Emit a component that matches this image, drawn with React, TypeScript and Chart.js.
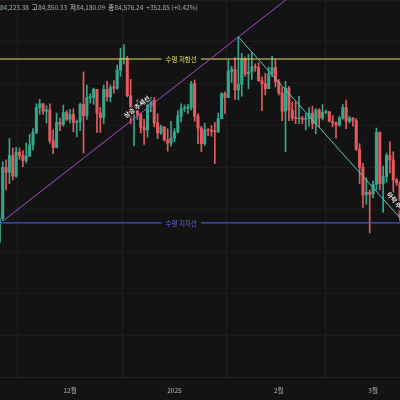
import { useEffect, useRef } from 'react';
import { Chart, registerables } from 'chart.js';
Chart.register(...registerables);

// Daily candles, index 0 = 2024-11-10 … 119 = 2025-03-09 (values in thousand USD)
const openK = [
  76.7, 80.5, 88.7, 87.9, 90.6, 87.3, 91.1, 90.6, 89.8, 90.5, 92.3, 94.3, 98.3, 98.9, 97.7, 97.9, 93.0, 91.9, 95.9, 95.6, 97.5,
  96.4, 97.2, 95.9, 96.0, 98.8, 97.0, 99.9, 99.9, 101.2, 97.4, 96.7, 101.2, 100.0, 101.5, 101.4, 104.3, 106.1, 106.1, 100.2, 97.5, 97.8, 97.2, 95.1, 94.7, 98.7, 99.4, 95.8, 94.2, 95.2, 93.1, 92.6,
  93.4, 94.4, 96.9, 98.1, 98.2, 98.3, 102.1, 96.9, 95.0, 92.5, 94.7, 94.6, 94.5, 94.4, 96.5, 100.5, 99.9, 104.1, 104.4, 101.1, 102.0, 106.1, 103.7, 104.0, 104.8, 104.7, 102.6, 102.1, 101.3, 103.7, 104.7,
  102.4, 100.6, 97.7, 101.4, 97.9, 96.6, 96.5, 96.5, 96.4, 96.5, 97.4, 95.7, 97.9, 96.6, 97.5, 97.6, 96.1, 95.8, 95.5, 96.6, 98.3, 96.1, 96.6, 96.2, 91.6, 88.7, 84.3, 84.7,
  84.4, 86.0, 94.3, 86.1, 87.2, 90.6, 89.9, 86.7, 86.2,
];
const highK = [
  81.5, 89.6, 89.9, 93.3, 91.8, 91.9, 91.8, 91.4, 92.6, 94.0, 94.9, 98.9, 99.6, 98.9, 98.6, 98.9, 94.7, 97.4, 96.6, 98.7, 97.8,
  98.0, 98.1, 96.3, 99.0, 104.0, 101.9, 100.5, 101.4, 101.2, 98.3, 101.9, 102.5, 101.9, 102.6, 105.1, 107.8, 108.4, 106.5, 102.8, 98.1, 99.5, 97.4, 96.4, 99.4, 99.9, 99.9, 97.3, 95.5, 95.2, 94.9, 96.1,
  94.9, 97.8, 98.9, 98.7, 98.8, 102.5, 102.7, 97.3, 95.3, 95.8, 94.9, 95.4, 95.9, 97.4, 100.7, 100.8, 105.9, 104.9, 106.3, 109.6, 107.0, 106.4, 106.8, 107.1, 105.3, 105.5, 103.2, 103.8, 104.8, 106.5, 106.0,
  102.8, 101.5, 102.5, 101.7, 99.2, 99.2, 100.1, 96.9, 97.3, 98.3, 98.5, 98.1, 98.1, 98.8, 97.9, 97.7, 97.0, 96.0, 96.9, 98.8, 99.5, 96.9, 96.7, 96.5, 92.5, 89.3, 87.0, 85.1,
  86.5, 95.0, 94.4, 88.9, 91.0, 92.8, 91.2, 86.9, 86.5,
];
const lowK = [
  76.5, 80.2, 85.1, 86.1, 86.7, 87.1, 90.0, 88.8, 89.4, 90.4, 91.5, 94.1, 97.2, 97.2, 95.8, 92.6, 90.9, 91.8, 94.6, 95.3, 96.2,
  95.8, 94.4, 93.6, 94.6, 91.0, 96.4, 99.0, 98.8, 94.3, 94.3, 95.7, 99.3, 99.2, 100.6, 101.2, 103.3, 105.3, 100.0, 95.7, 92.2, 96.4, 94.2, 92.4, 93.5, 97.6, 95.2, 93.3, 94.0, 92.9, 91.3, 92.1,
  92.8, 94.2, 96.0, 97.6, 97.3, 97.9, 96.1, 92.5, 91.2, 92.2, 93.8, 93.7, 89.3, 94.3, 96.5, 97.3, 99.9, 102.3, 99.6, 99.5, 100.1, 103.3, 101.3, 102.8, 104.1, 102.5, 97.8, 100.3, 101.3, 103.3, 101.6,
  100.3, 96.2, 91.2, 96.2, 96.2, 95.7, 95.7, 95.7, 94.7, 95.3, 94.9, 94.1, 95.2, 96.3, 97.3, 96.0, 95.2, 93.4, 95.3, 96.4, 94.9, 95.8, 95.3, 91.4, 86.1, 82.3, 82.8, 78.2,
  83.8, 85.1, 85.1, 81.5, 86.3, 87.8, 84.7, 85.8, 80.1,
];
const closeK = [
  80.5, 88.7, 87.9, 90.6, 87.3, 91.1, 90.6, 89.8, 90.5, 92.3, 94.3, 98.3, 98.9, 97.7, 97.9, 93.0, 91.9, 95.9, 95.6, 97.5, 96.4,
  97.2, 95.9, 96.0, 98.8, 97.0, 99.9, 99.9, 101.2, 97.4, 96.7, 101.2, 100.0, 101.5, 101.4, 104.3, 106.1, 106.1, 100.2, 97.5, 97.8, 97.2, 95.1, 94.7, 98.7, 99.4, 95.8, 94.2, 95.2, 93.1, 92.6, 93.4,
  94.4, 96.9, 98.1, 98.2, 98.3, 102.1, 96.9, 95.0, 92.5, 94.7, 94.6, 94.5, 94.4, 96.5, 100.5, 99.9, 104.1, 104.4, 101.1, 102.0, 106.1, 103.7, 104.0, 104.8, 104.7, 102.6, 102.1, 101.3, 103.7, 104.7, 102.4,
  100.6, 97.7, 101.4, 97.9, 96.6, 96.5, 96.5, 96.4, 96.5, 97.4, 95.7, 97.9, 96.6, 97.5, 97.6, 96.1, 95.8, 95.5, 96.6, 98.3, 96.1, 96.6, 96.2, 91.6, 88.7, 84.3, 84.7, 84.4,
  86.0, 94.3, 86.1, 87.2, 90.6, 89.9, 86.7, 86.2, 80.7,
];

const monthTickIdx = [21, 52, 83, 111];
const monthTickLabels = ['12월', '2025', '2월', '3월'];

const resistanceLevel = 106070;
const supportLevel = 79800;
const upTrend = [{ x: 1.1, y: 80100 }, { x: 71, y: 109600 }, { x: 95, y: 119730 }];
const downTrend = [{ x: 71, y: 109600 }, { x: 122, y: 78800 }];

const headerLabels = ['시', '고', '저', '종', ''];
const headerValues = ['84,223.38', '84,850.33', '84,180.09', '84,576.24', '+352.85 (+0.42%)'];

const BG = '#131313';
const UP = '#36a68c';
const DOWN = '#e25b5e';
const YELLOW = '#e9dd5a';
const BLUE = '#4455cc';
const PURPLE = '#a94ccf';
const TEAL = '#5cc4c0';
const FONT = '"Noto Sans CJK KR", "Noto Sans", sans-serif';

export default function App() {
  const ref = useRef<HTMLCanvasElement>(null);
  useEffect(() => {
    document.body.style.margin = '0';
    document.body.style.background = BG;
    const idx = openK.map((_, i) => i);
    const colors = idx.map((i) => (closeK[i] >= openK[i] ? UP : DOWN));
    const bodies = idx.map((i) => ({ x: i, y: [openK[i] * 1000, closeK[i] * 1000] }));
    const wicks = idx.map((i) => ({ x: i, y: [lowK[i] * 1000, highK[i] * 1000] }));

    const labelPlugin = {
      id: 'labels',
      afterDatasetsDraw(chart: any) {
        const { ctx, scales } = chart;
        const xs = scales.x, ys = scales.y;
        const hLabel = (text: string, level: number, color: string) => {
          const cx = xs.getPixelForValue(54);
          const cy = ys.getPixelForValue(level);
          ctx.save();
          ctx.font = `6.5px ${FONT}`;
          const w = ctx.measureText(text).width;
          ctx.fillStyle = BG;
          ctx.fillRect(cx - w / 2 - 4, cy - 4, w + 8, 8);
          ctx.fillStyle = color;
          ctx.textAlign = 'center';
          ctx.textBaseline = 'middle';
          ctx.fillText(text, cx, cy + 0.5);
          ctx.restore();
        };
        hLabel('수평 저항선', resistanceLevel, YELLOW);
        hLabel('수평 지지선', supportLevel, '#5a68d8');
        const rLabel = (text: string, pts: any[], atX: number) => {
          const x0 = xs.getPixelForValue(pts[0].x), y0 = ys.getPixelForValue(pts[0].y);
          const x1 = xs.getPixelForValue(pts[1].x), y1 = ys.getPixelForValue(pts[1].y);
          const ang = Math.atan2(y1 - y0, x1 - x0);
          const px = xs.getPixelForValue(atX);
          const py = y0 + ((px - x0) * (y1 - y0)) / (x1 - x0);
          const off = 7.5;
          const cx = px + Math.sin(ang) * off;
          const cy = py - Math.cos(ang) * off;
          ctx.save();
          ctx.translate(cx, cy);
          ctx.rotate(ang);
          ctx.font = `bold 6.5px ${FONT}`;
          ctx.textAlign = 'center';
          ctx.textBaseline = 'middle';
          ctx.lineWidth = 2.5;
          ctx.strokeStyle = BG;
          ctx.lineJoin = 'round';
          ctx.strokeText(text, 0, 0);
          ctx.fillStyle = '#e8e8e8';
          ctx.fillText(text, 0, 0);
          ctx.restore();
        };
        rLabel('상승 추세선', upTrend, 42.2);
        rLabel('하락 추세선', downTrend, 116.8);
      },
      afterDraw(chart: any) {
        const { ctx } = chart;
        ctx.save();
        ctx.textBaseline = 'alphabetic';
        let x = 0;
        headerValues.forEach((v, i) => {
          const lab = headerLabels[i];
          ctx.font = `6.5px ${FONT}`;
          if (lab) {
            const lw = ctx.measureText(lab).width;
            ctx.fillStyle = '#d6d6d6';
            ctx.fillText(lab, i === 0 ? -lw + 0.5 : x, 10, 6);
            if (i > 0) x += Math.min(lw, 6) + 0.3;
          }
          ctx.fillStyle = '#9db3ab';
          const target = i === 4 ? 52 : 29;
          ctx.fillText(v, x, 10, target);
          x += Math.min(ctx.measureText(v).width, target) + 3;
        });
        ctx.restore();
      },
    };

    const chart = new Chart(ref.current as HTMLCanvasElement, {
      type: 'bar',
      data: {
        datasets: [
          { type: 'line', data: upTrend, borderColor: PURPLE, borderWidth: 1, pointRadius: 0, order: 1 } as any,
          { type: 'line', data: downTrend, borderColor: TEAL, borderWidth: 1, pointRadius: 0, order: 1 } as any,
          { type: 'line', data: [{ x: -2, y: resistanceLevel }, { x: 122, y: resistanceLevel }], borderColor: YELLOW, borderWidth: 1.2, pointRadius: 0, order: 2 } as any,
          { type: 'line', data: [{ x: -2, y: supportLevel }, { x: 122, y: supportLevel }], borderColor: BLUE, borderWidth: 1.2, pointRadius: 0, order: 2 } as any,
          { type: 'bar', data: bodies as any, backgroundColor: colors, barThickness: 2.4, grouped: false, minBarLength: 1, order: 9 } as any,
          { type: 'bar', data: wicks as any, backgroundColor: colors, barThickness: 1, grouped: false, order: 10 } as any,
        ],
      },
      options: {
        animation: false,
        responsive: true,
        maintainAspectRatio: false,
        layout: { padding: 0 },
        plugins: { legend: { display: false }, tooltip: { enabled: false } },
        events: [],
        scales: {
          x: {
            type: 'linear',
            min: 0.2,
            max: 119,
            offset: false,
            afterBuildTicks: (axis: any) => { axis.ticks = monthTickIdx.map((v) => ({ value: v })); },
            afterFit: (s: any) => { s.height = 23; },
            ticks: {
              autoSkip: false,
              maxRotation: 0,
              padding: 10,
              color: '#b8b8b8',
              font: { size: 6.5, family: FONT },
              callback: (v: any) => monthTickLabels[monthTickIdx.indexOf(Number(v))] ?? '',
            },
            grid: { color: '#202020', drawTicks: false },
            border: { color: '#262626' },
          },
          y: {
            position: 'right',
            min: 55100,
            max: 115530,
            afterFit: (s: any) => { s.width = 0; },
            ticks: { display: false, stepSize: 7000 },
            grid: { color: '#1c1c1c', drawTicks: false },
            border: { display: false },
          },
        },
      } as any,
      plugins: [labelPlugin],
    });
    return () => chart.destroy();
  }, []);
  return (
    <div style={{ position: 'fixed', left: 0, top: 0, width: 400, height: 400, background: BG }}>
      <canvas ref={ref} />
    </div>
  );
}
